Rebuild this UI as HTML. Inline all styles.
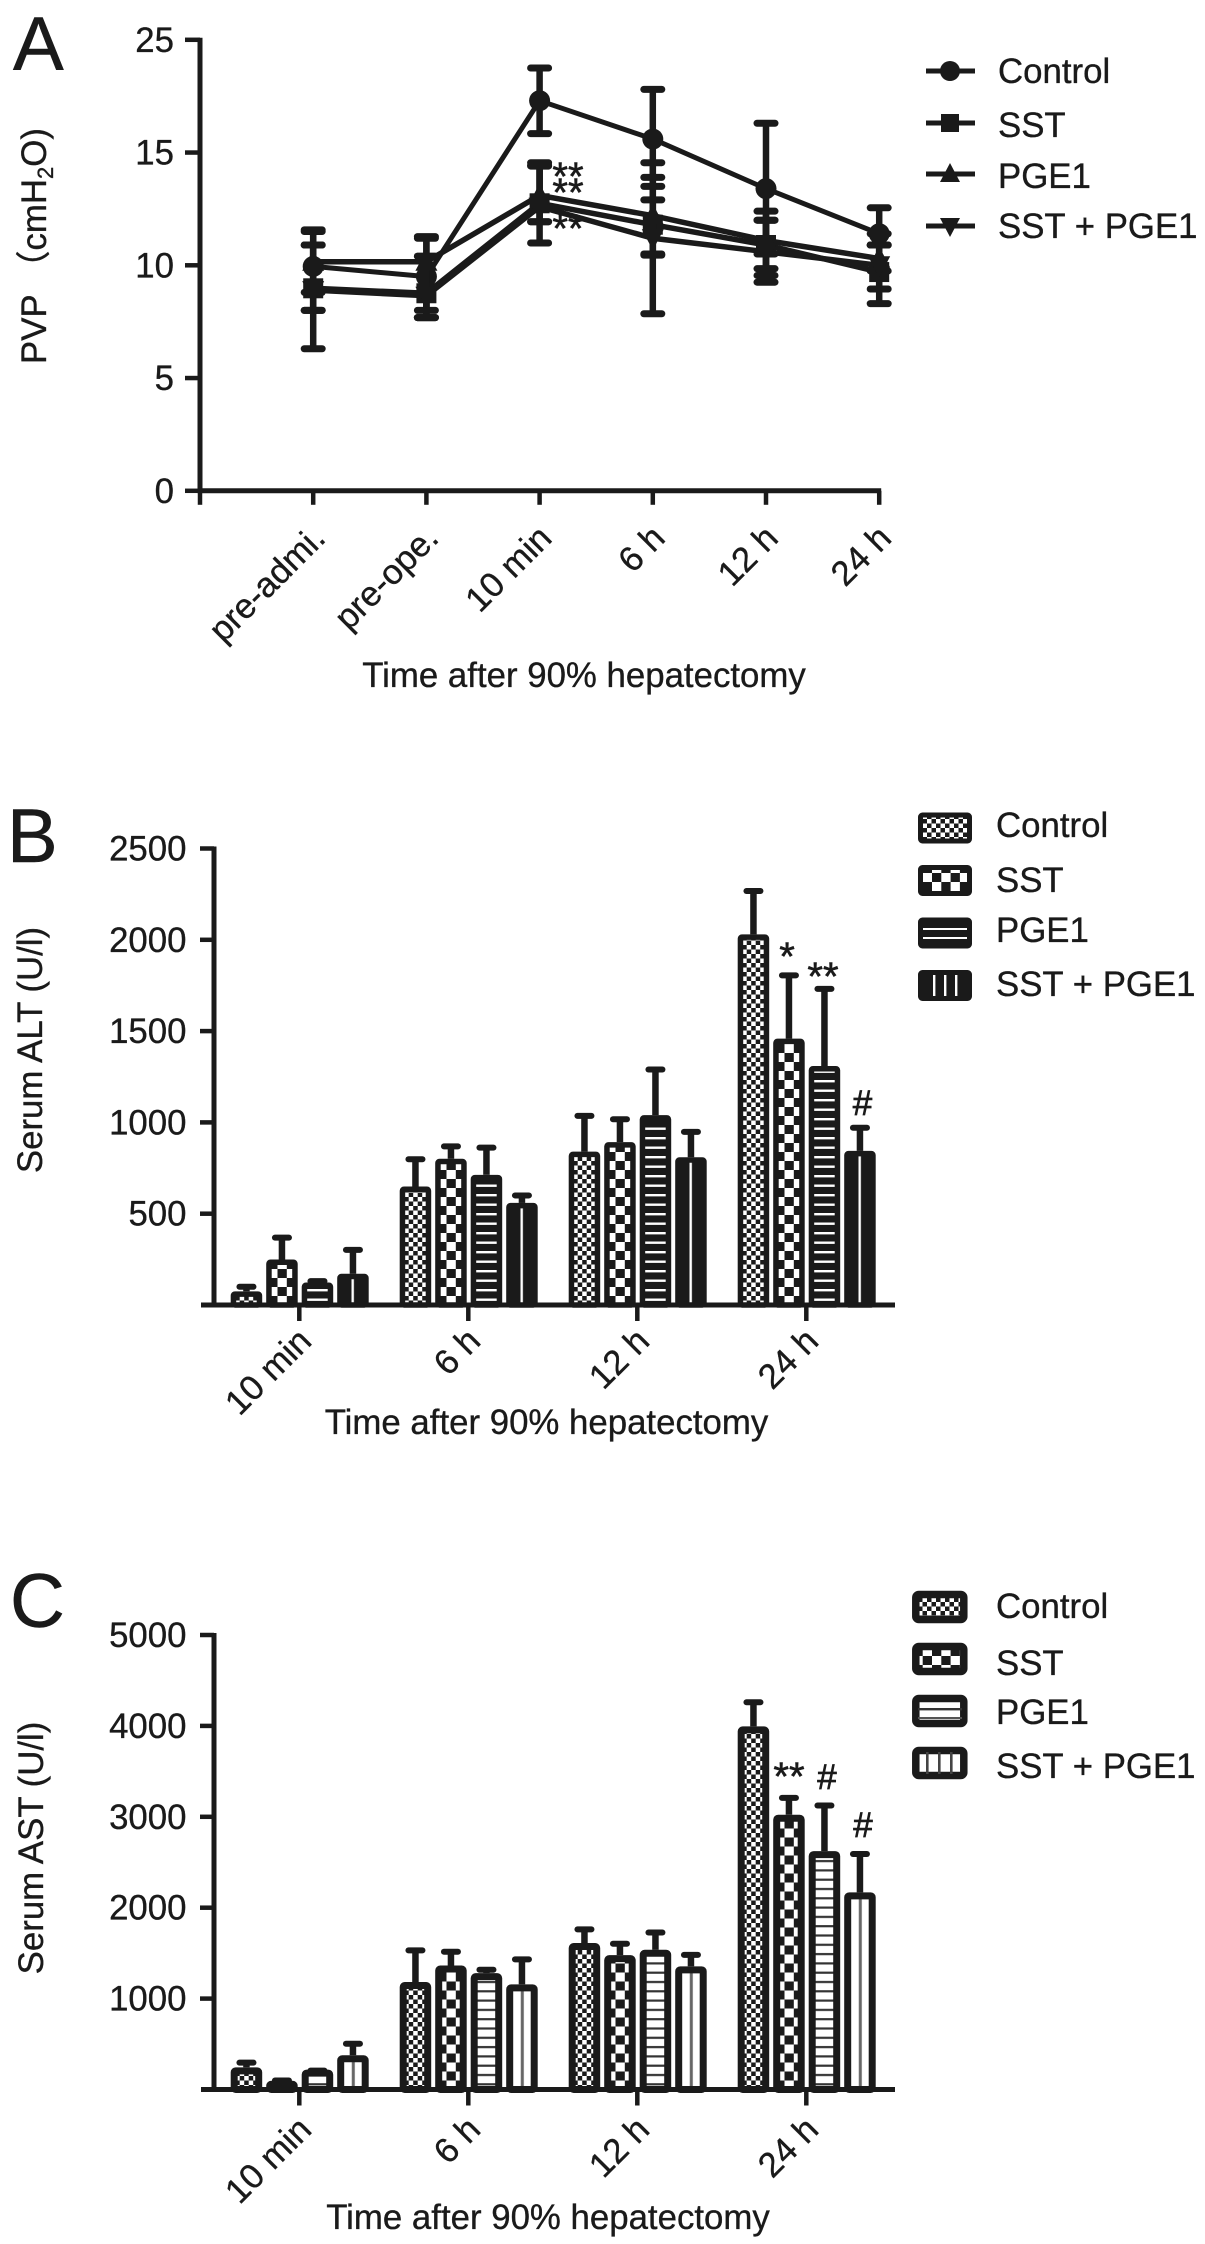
<!DOCTYPE html>
<html lang="en">
<head>
<meta charset="utf-8">
<title>Time after 90% hepatectomy panels</title>
<style>
html,body{margin:0;padding:0;background:#fff;}
svg{display:block;}
text{font-family:"Liberation Sans","Noto Sans CJK SC",sans-serif;fill:#1a1a1a;}
.lbl{font-size:34.8px;stroke:#1a1a1a;stroke-width:0.35px;}
.sig{font-size:40px;stroke:#1a1a1a;stroke-width:0.6px;}
.hash{font-size:35px;stroke:#1a1a1a;stroke-width:0.7px;}
.letter{font-size:76px;stroke:#1a1a1a;stroke-width:0.5px;}
</style>
</head>
<body>
<svg id="figure" xmlns="http://www.w3.org/2000/svg" width="1205" height="2244" viewBox="0 0 1205 2244">
<defs>
  <pattern id="fine" patternUnits="userSpaceOnUse" width="9" height="9">
    <rect width="9" height="9" fill="#1a1a1a"/>
    <rect x="0" y="0" width="4.5" height="4.5" fill="#fff"/>
    <rect x="4.5" y="4.5" width="4.5" height="4.5" fill="#fff"/>
  </pattern>
  <pattern id="check" patternUnits="userSpaceOnUse" x="2" width="18.6" height="18">
    <rect width="18.6" height="18" fill="#1a1a1a"/>
    <rect x="0" y="0" width="9.3" height="9" fill="#fff"/>
    <rect x="9.3" y="9" width="9.3" height="9" fill="#fff"/>
  </pattern>
  <pattern id="hlineB" patternUnits="userSpaceOnUse" width="10" height="9.5">
    <rect width="10" height="9.5" fill="#1a1a1a"/>
    <rect y="3" width="10" height="2.4" fill="#fff"/>
  </pattern>
  <pattern id="hlineC" patternUnits="userSpaceOnUse" width="10" height="9.3">
    <rect width="10" height="9.3" fill="#fff"/>
    <rect y="3" width="10" height="2.2" fill="#333"/>
  </pattern>
  <pattern id="vlineB" patternUnits="userSpaceOnUse" width="40" height="10">
    <rect width="40" height="10" fill="#1a1a1a"/>
    <rect x="14.3" width="2.4" height="10" fill="#fff"/>
  </pattern>
  <pattern id="vlineC" patternUnits="userSpaceOnUse" width="40" height="10">
    <rect width="40" height="10" fill="#fff"/>
    <rect x="14.6" width="3" height="10" fill="#666"/>
  </pattern>
</defs>

<!-- Panel letters -->
<text class="letter" x="13" y="70">A</text>
<text class="letter" x="7" y="862">B</text>
<text class="letter" x="10" y="1627">C</text>

<!-- Axis titles -->
<text class="lbl" transform="translate(46,246) rotate(-90)" text-anchor="middle">PVP （cmH<tspan font-size="22" dy="7">2</tspan><tspan dy="-7">O)</tspan></text>
<text class="lbl" transform="translate(42,1050) rotate(-90)" text-anchor="middle">Serum ALT (U/l)</text>
<text class="lbl" transform="translate(43,1848) rotate(-90)" text-anchor="middle">Serum AST (U/l)</text>
<text class="lbl" x="584" y="687" text-anchor="middle">Time after 90% hepatectomy</text>
<text class="lbl" x="546.5" y="1434" text-anchor="middle">Time after 90% hepatectomy</text>
<text class="lbl" x="548" y="2229" text-anchor="middle">Time after 90% hepatectomy</text>

<!-- Legend A -->
<g stroke="#1a1a1a" fill="#1a1a1a">
  <g>
    <line x1="926" x2="975" y1="71" y2="71" stroke-width="5"/><circle cx="950" cy="71" r="10" stroke="none"/>
    <text class="lbl" x="998" y="83">Control</text>
  </g>
  <g>
    <line x1="926" x2="975" y1="123" y2="123" stroke-width="5"/><rect x="941" y="114" width="18" height="18" stroke="none"/>
    <text class="lbl" x="998" y="137">SST</text>
  </g>
  <g>
    <line x1="926" x2="975" y1="174" y2="174" stroke-width="5"/><polygon points="950,163 960,182 940,182" stroke="none"/>
    <text class="lbl" x="998" y="188">PGE1</text>
  </g>
  <g>
    <line x1="926" x2="975" y1="226" y2="226" stroke-width="5"/><polygon points="950,237 960,218 940,218" stroke="none"/>
    <text class="lbl" x="998" y="238">SST + PGE1</text>
  </g>
</g>

<!-- Legend B -->
<g>
  <g>
    <rect x="920.5" y="815" width="49" height="26" rx="2" fill="url(#fine)" stroke="#1a1a1a" stroke-width="5"/>
    <text class="lbl" x="996" y="837">Control</text>
  </g>
  <g>
    <rect x="920.5" y="867.5" width="49" height="26" rx="2" fill="url(#check)" stroke="#1a1a1a" stroke-width="5"/>
    <text class="lbl" x="996" y="892">SST</text>
  </g>
  <g>
    <rect x="920.5" y="920" width="49" height="26" rx="2" fill="#1a1a1a" stroke="#1a1a1a" stroke-width="5"/>
    <rect x="923" y="928" width="44" height="2" fill="#fff"/><rect x="923" y="937" width="44" height="2" fill="#fff"/>
    <text class="lbl" x="996" y="942">PGE1</text>
  </g>
  <g>
    <rect x="920.5" y="972.5" width="49" height="26" rx="2" fill="#1a1a1a" stroke="#1a1a1a" stroke-width="5"/>
    <rect x="933" y="975" width="2.4" height="21" fill="#fff"/><rect x="944" y="975" width="2.4" height="21" fill="#fff"/><rect x="955" y="975" width="2.4" height="21" fill="#fff"/>
    <text class="lbl" x="996" y="996">SST + PGE1</text>
  </g>
</g>

<!-- Legend C -->
<g>
  <g>
    <rect x="915.8" y="1594.5" width="48" height="25" rx="3" fill="url(#fine)" stroke="#1a1a1a" stroke-width="7.5"/>
    <text class="lbl" x="996" y="1618">Control</text>
  </g>
  <g>
    <rect x="915.8" y="1646.5" width="48" height="25" rx="3" fill="url(#check)" stroke="#1a1a1a" stroke-width="7.5"/>
    <text class="lbl" x="996" y="1675">SST</text>
  </g>
  <g>
    <rect x="915.8" y="1698.5" width="48" height="25" rx="3" fill="#fff" stroke="#1a1a1a" stroke-width="7.5"/>
    <rect x="918" y="1708" width="44" height="2.4" fill="#333"/><rect x="918" y="1717" width="44" height="2" fill="#555"/>
    <text class="lbl" x="996" y="1724">PGE1</text>
  </g>
  <g>
    <rect x="915.8" y="1750.5" width="48" height="25" rx="3" fill="#fff" stroke="#1a1a1a" stroke-width="7.5"/>
    <rect x="926" y="1752" width="2.6" height="22" fill="#444"/><rect x="938" y="1752" width="2.6" height="22" fill="#444"/><rect x="950" y="1752" width="2.6" height="22" fill="#444"/>
    <text class="lbl" x="996" y="1778">SST + PGE1</text>
  </g>
</g>

<!-- Significance markers -->
<g>
  <text class="sig" x="568" y="190" text-anchor="middle">**</text>
  <text class="sig" x="568" y="206" text-anchor="middle">**</text>
  <text class="sig" x="568" y="242" text-anchor="middle">**</text>
</g>
<g>
  <text class="sig" x="787" y="970" text-anchor="middle">*</text>
  <text class="sig" x="823" y="990" text-anchor="middle">**</text>
  <text class="hash" x="862.5" y="1115" text-anchor="middle">#</text>
</g>
<g>
  <text class="sig" x="789" y="1790" text-anchor="middle">**</text>
  <text class="hash" x="827" y="1789" text-anchor="middle">#</text>
  <text class="hash" x="863" y="1837" text-anchor="middle">#</text>
</g>
</svg>

<script>
// ---------- Panel A data ----------
const pvpCategories = ['pre-admi.', 'pre-ope.', '10 min', '6 h', '12 h', '24 h'];
const pvpTickValues = [0, 5, 10, 15, 20];
const pvpTickLabels = ['0', '5', '10', '15', '25'];
const pvpControl = [9.95, 9.5, 17.3, 15.6, 13.4, 11.4];
const pvpControlHi = [11.57, 11.27, 18.75, 17.8, 16.3, 12.55];
const pvpControlLo = [8.0, 7.68, 15.84, 13.5, 10.5, 10.9];
const pvpSST = [8.98, 8.76, 12.75, 11.8, 10.9, 9.7];
const pvpSSTHi = [10.9, 10.4, 14.45, 13.9, 12.4, 11.4];
const pvpSSTLo = [6.3, 7.68, 10.99, 10.45, 9.55, 8.3];
const pvpPGE1 = [10.16, 10.16, 13.1, 12.2, 11.1, 10.3];
const pvpPGE1Hi = [11.5, 11.2, 14.55, 14.55, 12.0, 10.9];
const pvpPGE1Lo = [8.8, 8.0, 11.93, 10.5, 9.85, 9.75];
const pvpCombo = [8.9, 8.65, 12.6, 11.2, 10.6, 10.0];
const pvpComboHi = [10.9, 10.4, 14.4, 12.9, 12.0, 10.9];
const pvpComboLo = [8.0, 7.68, 11.93, 7.85, 9.25, 8.95];

// ---------- Panel B data ----------
const barCategories = ['10 min', '6 h', '12 h', '24 h'];
const altTickValues = [500, 1000, 1500, 2000, 2500];
const altControl = [64, 638, 829, 2019];
const altControlTop = [100, 798, 1036, 2267];
const altSST = [238, 790, 881, 1448];
const altSSTTop = [369, 869, 1017, 1805];
const altPGE1 = [112, 702, 1029, 1298];
const altPGE1Top = [131, 862, 1290, 1731];
const altCombo = [160, 548, 798, 833];
const altComboTop = [302, 600, 948, 971];

// ---------- Panel C data ----------
const astTickValues = [1000, 2000, 3000, 4000, 5000];
const astControl = [222, 1160, 1589, 3973];
const astControlTop = [296, 1530, 1762, 4260];
const astSST = [74, 1342, 1456, 3001];
const astSSTTop = [99, 1515, 1604, 3208];
const astPGE1 = [197, 1258, 1515, 2601];
const astPGE1Top = [207, 1318, 1727, 3124];
const astCombo = [355, 1135, 1333, 2147];
const astComboTop = [503, 1431, 1481, 2591];

const INK = '#1a1a1a';
const svg = document.getElementById('figure');
const NS = 'http://www.w3.org/2000/svg';

function mk(tag, attrs, parent) {
  const el = document.createElementNS(NS, tag);
  for (const k in attrs) el.setAttribute(k, attrs[k]);
  (parent || svg).appendChild(el);
  return el;
}

// ---------- Panel A axes ----------
const xA = i => 200 + 113.2 * (i + 1);
const yA = v => 490.8 - 22.55 * v;

function drawPanelA() {
  const g = mk('g', {});
  
  

  const axis = mk('path', {d: 'M200 ' + (yA(20) - 2) + ' V' + yA(0) + ' H' + (xA(5) + 2), fill: 'none', stroke: INK, 'stroke-width': 5, 'stroke-linejoin': 'miter'}, g);
  
  

  pvpTickValues.forEach((v, i) => {
    mk('line', {x1: 185, x2: 200, y1: yA(v), y2: yA(v), stroke: INK, 'stroke-width': 4.5}, g);
    const t = mk('text', {class: 'lbl', x: 174, y: yA(v) + 12, 'text-anchor': 'end'}, g);
    t.textContent = pvpTickLabels[i];
    
    
  });
  mk('line', {x1: 200, x2: 200, y1: yA(0), y2: yA(0) + 14, stroke: INK, 'stroke-width': 4.5}, g);
  pvpCategories.forEach((c, i) => {
    mk('line', {x1: xA(i), x2: xA(i), y1: yA(0), y2: yA(0) + 14, stroke: INK, 'stroke-width': 4.5}, g);
    const t = mk('text', {class: 'lbl', 'text-anchor': 'end', transform: 'translate(' + (xA(i) + 14) + ',540) rotate(-45)'}, g);
    t.textContent = c;
    
    
  });

  const series = [
    {name: 'control', v: pvpControl, hi: pvpControlHi, lo: pvpControlLo, w: 5},
    {name: 'sst', v: pvpSST, hi: pvpSSTHi, lo: pvpSSTLo, w: 5.5},
    {name: 'pge1', v: pvpPGE1, hi: pvpPGE1Hi, lo: pvpPGE1Lo, w: 5.5},
    {name: 'sst-pge1', v: pvpCombo, hi: pvpComboHi, lo: pvpComboLo, w: 5.5}
  ];
  series.forEach(s => {
    const sg = mk('g', {}, g);
    
    
    s.v.forEach((v, i) => {
      const x = xA(i);
      mk('line', {x1: x, x2: x, y1: yA(s.hi[i]), y2: yA(s.lo[i]), stroke: INK, 'stroke-width': 6.5}, sg);
      mk('line', {x1: x - 9, x2: x + 9, y1: yA(s.hi[i]), y2: yA(s.hi[i]), stroke: INK, 'stroke-width': 7, 'stroke-linecap': 'round'}, sg);
      mk('line', {x1: x - 9, x2: x + 9, y1: yA(s.lo[i]), y2: yA(s.lo[i]), stroke: INK, 'stroke-width': 7, 'stroke-linecap': 'round'}, sg);
    });
    const pts = s.v.map((v, i) => xA(i) + ',' + yA(v)).join(' ');
    const line = mk('polyline', {points: pts, fill: 'none', stroke: INK, 'stroke-width': s.w}, sg);
    
    
    s.v.forEach((v, i) => {
      const x = xA(i), y = yA(v);
      let m;
      if (s.name === 'control') m = mk('circle', {cx: x, cy: y, r: 10.5, fill: INK}, sg);
      else if (s.name === 'sst') m = mk('rect', {x: x - 10, y: y - 10, width: 20, height: 20, fill: INK}, sg);
      else if (s.name === 'pge1') m = mk('polygon', {points: x + ',' + (y - 12) + ' ' + (x + 11) + ',' + (y + 9) + ' ' + (x - 11) + ',' + (y + 9), fill: INK}, sg);
      else m = mk('polygon', {points: x + ',' + (y + 12) + ' ' + (x + 11) + ',' + (y - 9) + ' ' + (x - 11) + ',' + (y - 9), fill: INK}, sg);
      
      
    });
  });
}

// ---------- Bar panels ----------
const xGroup = i => 299.3 + 169 * i;
const barStep = 35.5;
const barStart = -68.6;
const barOuter = 31.5;

function drawBarPanel(cfg) {
  const g = mk('g', {});
  
  
  const y = cfg.y;

  cfg.tickValues.forEach(v => {
    mk('line', {x1: 200, x2: 214, y1: y(v), y2: y(v), stroke: INK, 'stroke-width': 4.5}, g);
    const t = mk('text', {class: 'lbl', x: 186.5, y: y(v) + 12, 'text-anchor': 'end'}, g);
    t.textContent = String(v);
    
    
  });

  cfg.series.forEach((s, si) => {
    s.v.forEach((v, i) => {
      const left = xGroup(i) + barStart + barStep * si;
      const cx = left + barOuter / 2;
      const top = y(v) - 2;
      const capY = y(s.top[i]);
      const bar = mk('g', {transform: 'translate(' + left + ',' + y(0) + ')'}, g);
      
      
      const h = y(0) - top;
      const sw = cfg.sw;
      mk('rect', {x: sw / 2, y: -h + sw / 2, width: barOuter - sw, height: Math.max(h - sw / 2, 1), rx: 1.5, fill: 'url(#' + s.fill + ')', stroke: INK, 'stroke-width': sw}, bar);
      mk('line', {x1: cx, x2: cx, y1: capY, y2: top, stroke: INK, 'stroke-width': 6.5}, g);
      mk('line', {x1: cx - 7, x2: cx + 7, y1: capY, y2: capY, stroke: INK, 'stroke-width': 6, 'stroke-linecap': 'round'}, g);
    });
  });

  const axis = mk('path', {d: 'M214 ' + (y(cfg.top) - 2) + ' V' + y(0), fill: 'none', stroke: INK, 'stroke-width': 5}, g);
  
  
  const base = mk('line', {x1: 201, x2: 895, y1: y(0), y2: y(0), stroke: INK, 'stroke-width': 5}, g);
  
  

  barCategories.forEach((c, i) => {
    mk('line', {x1: xGroup(i), x2: xGroup(i), y1: y(0), y2: y(0) + 16, stroke: INK, 'stroke-width': 4.5}, g);
    const t = mk('text', {class: 'lbl', 'text-anchor': 'end', transform: 'translate(' + (xGroup(i) + 14) + ',' + (y(0) + cfg.labelDrop) + ') rotate(-45)'}, g);
    t.textContent = c;
    
    
  });
}

const yB = v => 1305 - 0.1826 * v;
const yC = v => 2089.5 - 0.0909 * v;

drawPanelA();
drawBarPanel({
  name: 'alt-bar-chart', y: yB, top: 2500, tickValues: altTickValues, sw: 5.5, labelDrop: 38,
  series: [
    {name: 'control', v: altControl, top: altControlTop, fill: 'fine'},
    {name: 'sst', v: altSST, top: altSSTTop, fill: 'check'},
    {name: 'pge1', v: altPGE1, top: altPGE1Top, fill: 'hlineB'},
    {name: 'sst-pge1', v: altCombo, top: altComboTop, fill: 'vlineB'}
  ]
});
drawBarPanel({
  name: 'ast-bar-chart', y: yC, top: 5000, tickValues: astTickValues, sw: 7, labelDrop: 42,
  series: [
    {name: 'control', v: astControl, top: astControlTop, fill: 'fine'},
    {name: 'sst', v: astSST, top: astSSTTop, fill: 'check'},
    {name: 'pge1', v: astPGE1, top: astPGE1Top, fill: 'hlineC'},
    {name: 'sst-pge1', v: astCombo, top: astComboTop, fill: 'vlineC'}
  ]
});
</script>
</body>
</html>
